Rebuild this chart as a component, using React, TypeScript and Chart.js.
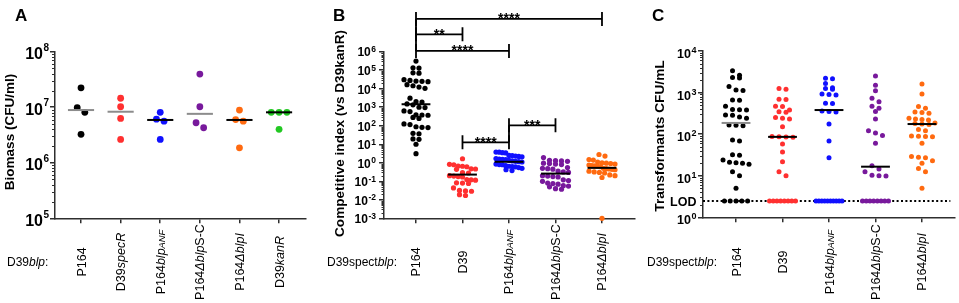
import React, { useEffect, useRef } from 'react';
import { Chart, registerables } from 'chart.js';

Chart.register(...registerables);

const FONT = '"Liberation Sans", Arial, Helvetica, sans-serif';
const H = 303;
const AXIS = '#2e2e2e';

// ---------------- Panel A : biomass ----------------
const categoriesA = ['P164', 'D39<i>specR</i>', 'P164<i>blp</i><s>ANF</s>', 'P164<i>Δblp</i>S-C', 'P164<i>ΔblpI</i>', 'D39<i>kanR</i>'];
const biomassP164 = [2.24e7, 9.8e6, 8.1e6, 3.25e6];
const biomassD39specR = [1.45e7, 1.02e7, 6.3e6, 2.63e6];
const biomassBlpANF = [8.1e6, 6.1e6, 5.6e6, 2.63e6];
const biomassBlpSC = [3.96e7, 1.02e7, 5.25e6, 4.27e6];
const biomassBlpI = [8.9e6, 6.0e6, 5.6e6, 1.86e6];
const biomassD39kanR = [8.1e6, 8.1e6, 8.1e6, 4.0e6];
const biomassMedians = [8.9e6, 8.3e6, 5.9e6, 7.6e6, 5.9e6, 8.1e6];
const yExponentsA = [5, 6, 7, 8];

// ---------------- Panel B : competitive index ----------------
const categoriesB = ['P164', 'D39', 'P164<i>blp</i><s>ANF</s>', 'P164<i>Δblp</i>S-C', 'P164<i>ΔblpI</i>'];
const ciP164 = [3.1e5, 1.35e5, 1.3e5, 7.2e4, 6.9e4, 3.1e4, 2.8e4, 2.6e4, 2.5e4, 2.4e4, 1.65e4, 1.45e4, 1.23e4, 1.05e4, 3.1e3, 2.0e3, 1.9e3, 1.5e3, 1.35e3, 1.0e3, 9.6e2, 6.3e2, 5.8e2, 3.9e2, 3.8e2, 3.7e2, 2.8e2, 2.5e2, 1.25e2, 1.15e2, 88, 82, 80, 39, 37, 19.5, 18.5, 10, 3.1];
const ciD39 = [1.65, 0.82, 0.78, 0.67, 0.65, 0.61, 0.47, 0.46, 0.44, 0.29, 0.28, 0.2, 0.19, 0.18, 0.17, 0.125, 0.12, 0.115, 0.083, 0.08, 0.076, 0.044, 0.032, 0.03, 0.029, 0.019, 0.017];
const ciBlpANF = [3.8, 3.75, 3.5, 3.4, 2.5, 2.45, 2.3, 2.2, 2.1, 1.7, 1.6, 1.55, 1.5, 1.35, 1.25, 1.2, 1.15, 1.1, 0.85, 0.8, 0.78, 0.7, 0.65, 0.62, 0.6, 0.55, 0.5, 0.42, 0.38];
const ciBlpSC = [1.9, 1.35, 1.3, 1.25, 1.2, 0.95, 0.9, 0.85, 0.8, 0.55, 0.5, 0.48, 0.45, 0.35, 0.32, 0.3, 0.2, 0.19, 0.18, 0.17, 0.12, 0.11, 0.1, 0.08, 0.075, 0.07, 0.058, 0.055, 0.05, 0.04, 0.037];
const ciBlpI = [2.8, 2.3, 1.5, 1.4, 1.1, 1.0, 0.95, 0.9, 0.85, 0.75, 0.7, 0.68, 0.65, 0.62, 0.5, 0.48, 0.46, 0.44, 0.42, 0.35, 0.32, 0.3, 0.28, 0.22, 0.2, 0.16, 0.001];
const ciMedians = [1.45e3, 0.23, 1.13, 0.26, 0.53];
const yExponentsB = [-3, -2, -1, 0, 1, 2, 3, 4, 5, 6];
const bracketFrom = [0, 0, 0, 2, 1];
const bracketTo = [4, 1, 2, 3, 2];
const bracketValue = [5.9e7, 8.7e6, 1.1e6, 105, 12.7];
const bracketLabel = ['****', '**', '****', '***', '****'];

// ---------------- Panel C : transformants ----------------
const LOD = 2.45;
const categoriesC = categoriesB;
const tfP164 = [3.35e3, 2.6e3, 2.3e3, 2.25e3, 1.4e3, 1.15e3, 1.12e3, 660, 650, 470, 390, 385, 380, 290, 285, 260, 240, 167, 163, 160, 72, 68, 32, 31, 24, 21, 20.5, 20, 19, 12.5, 10, 5.0, LOD, LOD, LOD, LOD, LOD];
const tfD39 = [1.26e3, 1.2e3, 690, 680, 470, 465, 380, 345, 335, 250, 240, 230, 150, 88, 86, 85, 84, 58, 37, 21.8, 12.5, 10, LOD, LOD, LOD, LOD, LOD, LOD, LOD, LOD];
const tfBlpANF = [2.2e3, 2.15e3, 1.65e3, 1.3e3, 1.25e3, 1.2e3, 930, 900, 880, 550, 545, 360, 350, 340, 175, 68, 27, LOD, LOD, LOD, LOD, LOD, LOD, LOD, LOD, LOD, LOD];
const tfBlpSC = [2.5e3, 1.5e3, 1.1e3, 730, 600, 470, 420, 350, 230, 120, 107, 93, 60, 17.4, 14.5, 12.5, 10.2, 10, 9.9, LOD, LOD, LOD, LOD, LOD, LOD, LOD, LOD];
const tfBlpI = [1.6e3, 920, 460, 420, 340, 330, 320, 240, 230, 225, 220, 185, 180, 175, 170, 130, 120, 90, 89, 88, 87, 60, 29, 28, 27, 23, 20, 15, 12.5, 5.0];
const tfMedians = [186, 86, 380, 16.5, 175];
const yExponentsC = [0, 1, 2, 3, 4];

// ---------------- colours ----------------
const BLACK = '#000000';
const RED = '#ff3030';
const BLUE = '#1010ff';
const PURPLE = '#78199c';
const ORANGE = '#ff6a10';
const GREEN = '#22c822';
const GRAY = '#8c8c8c';

interface PanelCfg {
  key: string;
  offsetX: number;
  width: number;
  letter: string;
  letterX: number;
  yTitle: string;
  yTitleX: number;
  yTitleY: number;
  yTitleSize: number;
  rowLabel: string;
  categories: string[];
  series: number[][];
  colors: string[];
  medians: number[];
  medianColors: string[];
  medianHalf: number;
  xMin: number;
  xMax: number;
  yExps: number[];
  area: { left: number; right: number; top: number; bottom: number };
  pointRadius: number;
  spacing: number;
  tieSpacing: number;
  maxHalf: number;
  rowH: number;
  tenSize: number;
  expSize: number;
  expRaise: number;
  labelGap: number;
  labelShift: number;
  minorLen: number;
  lod?: number;
  brackets?: boolean;
}

const panelA: PanelCfg = {
  key: 'A', offsetX: 0, width: 320, letter: 'A', letterX: 15,
  yTitle: 'Biomass (CFU/ml)', yTitleX: 14, yTitleY: 132, yTitleSize: 13.5,
  rowLabel: 'D39<i>blp</i>:',
  categories: categoriesA,
  series: [biomassP164, biomassD39specR, biomassBlpANF, biomassBlpSC, biomassBlpI, biomassD39kanR],
  colors: [BLACK, RED, BLUE, PURPLE, ORANGE, GREEN],
  medians: biomassMedians,
  medianColors: [GRAY, GRAY, BLACK, GRAY, BLACK, BLACK],
  medianHalf: 0.33,
  xMin: -0.657, xMax: 5.68,
  yExps: yExponentsA,
  area: { left: 55, right: 306, top: 51.7, bottom: 218.3 },
  pointRadius: 3.4, spacing: 7.6, tieSpacing: 7.8, maxHalf: 14, rowH: 6,
  tenSize: 16, expSize: 10, expRaise: 8.5, labelGap: 6, labelShift: 2, minorLen: 3,
};

const panelB: PanelCfg = {
  key: 'B', offsetX: 320, width: 320, letter: 'B', letterX: 13,
  yTitle: 'Competitive index (vs D39kanR)', yTitleX: 24, yTitleY: 133.5, yTitleSize: 13.6,
  rowLabel: 'D39spect<i>blp</i>:',
  categories: categoriesB,
  series: [ciP164, ciD39, ciBlpANF, ciBlpSC, ciBlpI],
  colors: [BLACK, RED, BLUE, PURPLE, ORANGE],
  medians: ciMedians,
  medianColors: [BLACK, BLACK, BLACK, BLACK, BLACK],
  medianHalf: 0.31,
  xMin: -0.688, xMax: 4.71,
  yExps: yExponentsB,
  area: { left: 64, right: 315, top: 51.7, bottom: 218.3 },
  pointRadius: 2.6, spacing: 6, tieSpacing: 6, maxHalf: 13, rowH: 5,
  tenSize: 12, expSize: 8.5, expRaise: 4.5, labelGap: 8, labelShift: 0.5, minorLen: 2.5,
  brackets: true,
};

const panelC: PanelCfg = {
  key: 'C', offsetX: 640, width: 319, letter: 'C', letterX: 12,
  yTitle: 'Transformants CFU/mL', yTitleX: 23.5, yTitleY: 136, yTitleSize: 13.7,
  rowLabel: 'D39spect<i>blp</i>:',
  categories: categoriesC,
  series: [tfP164, tfD39, tfBlpANF, tfBlpSC, tfBlpI],
  colors: [BLACK, RED, BLUE, PURPLE, ORANGE],
  medians: tfMedians,
  medianColors: [GRAY, BLACK, BLACK, BLACK, BLACK],
  medianHalf: 0.31,
  xMin: -0.71, xMax: 4.71,
  yExps: yExponentsC,
  area: { left: 63, right: 315, top: 51, bottom: 217.3 },
  pointRadius: 2.5, spacing: 7, tieSpacing: 5.8, maxHalf: 13, rowH: 5,
  tenSize: 12.5, expSize: 9, expRaise: 5, labelGap: 6.5, labelShift: 2.5, minorLen: 3,
  lod: LOD,
};

// ---------- helpers ----------
type Seg = { t: string; style: 'n' | 'i' | 's' };
function parseRich(s: string): Seg[] {
  const out: Seg[] = [];
  const re = /<(i|s)>(.*?)<\/\1>|([^<]+)/g;
  let m: RegExpExecArray | null;
  while ((m = re.exec(s))) {
    if (m[3]) out.push({ t: m[3], style: 'n' });
    else out.push({ t: m[2], style: m[1] as 'i' | 's' });
  }
  return out;
}
function segFont(style: string, size: number) {
  if (style === 'n') return `${size}px ${FONT}`;
  if (style === 'i') return `italic ${size}px ${FONT}`;
  return `italic ${size * 0.75}px ${FONT}`;
}
function drawRich(ctx: CanvasRenderingContext2D, s: string, size: number, centered: boolean) {
  const segs = parseRich(s);
  let total = 0;
  const widths = segs.map((g) => {
    ctx.font = segFont(g.style, size);
    const w = ctx.measureText(g.t).width;
    total += w;
    return w;
  });
  let x = centered ? -total / 2 : 0;
  ctx.textAlign = 'left';
  ctx.textBaseline = 'alphabetic';
  segs.forEach((g, i) => {
    ctx.font = segFont(g.style, size);
    ctx.fillText(g.t, x, size * 0.36);
    x += widths[i];
  });
}

// Prism-like scatter layout: points grouped in rows, each row centred on the category
function swarmOffsets(ys: number[], vals: number[], S: number, tieS: number, maxHalf: number, rowH: number): number[] {
  const n = ys.length;
  const order = ys.map((_, i) => i).sort((a, b) => ys[a] - ys[b]);
  const off = new Array(n).fill(0);
  let k = 0;
  while (k < n) {
    let j = k;
    while (j + 1 < n && ys[order[j + 1]] - ys[order[k]] < rowH) j++;
    const m = j - k + 1;
    if (m > 1) {
      const allTie = vals[order[k]] === vals[order[j]];
      const base = allTie ? tieS : S;
      const s = Math.min(base, (2 * maxHalf) / (m - 1));
      for (let t = 0; t < m; t++) off[order[k + t]] = (t - (m - 1) / 2) * s;
    }
    k = j + 1;
  }
  return off;
}

function drawPow(ctx: CanvasRenderingContext2D, exp: string, right: number, py: number, c: PanelCfg) {
  ctx.font = `bold ${c.tenSize}px ${FONT}`;
  const w10 = ctx.measureText('10').width;
  ctx.font = `bold ${c.expSize}px ${FONT}`;
  const wE = ctx.measureText(exp).width;
  const base = py + c.labelShift + (c.tenSize * 0.716) / 2;
  ctx.textAlign = 'left';
  ctx.textBaseline = 'alphabetic';
  ctx.font = `bold ${c.tenSize}px ${FONT}`;
  ctx.fillText('10', right - wE - w10 - 0.5, base);
  ctx.font = `bold ${c.expSize}px ${FONT}`;
  ctx.fillText(exp, right - wE, base - c.expRaise);
}

function makePlugin(c: PanelCfg) {
  return {
    id: 'overlay' + c.key,
    afterDatasetUpdate(chart: any, args: any) {
      const ds: any = chart.data.datasets[args.index];
      if (!ds._swarm) return;
      const els = args.meta.data as any[];
      const ys = els.map((e) => e.y);
      const vals = ds.data.map((d: any) => d.y);
      const off = swarmOffsets(ys, vals, c.spacing, c.tieSpacing, c.maxHalf, c.rowH);
      els.forEach((e, i) => {
        e.x = e.x + off[i];
      });
    },
    afterDraw(chart: any) {
      const ctx: CanvasRenderingContext2D = chart.ctx;
      const xs = chart.scales.x;
      const ys = chart.scales.y;
      const ca = chart.chartArea;
      ctx.save();
      ctx.fillStyle = '#000';
      // panel letter
      ctx.font = `bold 17px ${FONT}`;
      ctx.textAlign = 'left';
      ctx.textBaseline = 'alphabetic';
      ctx.fillText(c.letter, c.letterX, 20.5);
      // y title
      ctx.save();
      ctx.translate(c.yTitleX, c.yTitleY);
      ctx.rotate(-Math.PI / 2);
      ctx.font = `bold ${c.yTitleSize}px ${FONT}`;
      ctx.textAlign = 'center';
      ctx.textBaseline = 'alphabetic';
      ctx.fillText(c.yTitle, 0, 0);
      ctx.restore();
      // y tick labels
      c.yExps.forEach((e) => {
        const py = ys.getPixelForValue(Math.pow(10, e));
        drawPow(ctx, e < 0 ? '-' + String(-e) : String(e), ca.left - c.labelGap, py, c);
      });
      if (c.lod !== undefined) {
        const py = ys.getPixelForValue(c.lod);
        ctx.font = `bold ${c.tenSize}px ${FONT}`;
        ctx.textAlign = 'right';
        ctx.fillText('LOD', ca.left - c.labelGap, py + c.tenSize * 0.358);
      }
      // minor ticks
      ctx.strokeStyle = AXIS;
      ctx.lineWidth = 1;
      ctx.beginPath();
      const e0 = c.yExps[0];
      const e1 = c.yExps[c.yExps.length - 1];
      for (let e = e0; e < e1; e++) {
        for (let k = 2; k <= 9; k++) {
          const py = Math.round(ys.getPixelForValue(k * Math.pow(10, e))) + 0.5;
          ctx.moveTo(ca.left - c.minorLen, py);
          ctx.lineTo(ca.left, py);
        }
      }
      ctx.stroke();
      // row label
      ctx.fillStyle = '#000';
      ctx.save();
      ctx.translate(7, 262);
      drawRich(ctx, c.rowLabel, 12, false);
      ctx.restore();
      // x category labels
      c.categories.forEach((lab, i) => {
        const px = xs.getPixelForValue(i);
        ctx.save();
        ctx.translate(px, 262);
        ctx.rotate(-Math.PI / 2);
        drawRich(ctx, lab, 12.5, true);
        ctx.restore();
      });
      // significance brackets
      if (c.brackets) {
        ctx.strokeStyle = '#000';
        ctx.lineWidth = 1.8;
        const cap = 7;
        const ends: { x: number; y: number }[] = [];
        bracketValue.forEach((v, i) => {
          const y = ys.getPixelForValue(v);
          const x1 = xs.getPixelForValue(bracketFrom[i]);
          const x2 = xs.getPixelForValue(bracketTo[i]);
          ctx.beginPath();
          ctx.moveTo(x1, y);
          ctx.lineTo(x2, y);
          ctx.moveTo(x1, y - cap);
          ctx.lineTo(x1, y + cap);
          ctx.moveTo(x2, y - cap);
          ctx.lineTo(x2, y + cap);
          ctx.stroke();
          ends.push({ x: x1, y }, { x: x2, y });
          ctx.font = `bold 14px ${FONT}`;
          ctx.textAlign = 'center';
          ctx.textBaseline = 'alphabetic';
          ctx.fillText(bracketLabel[i], (x1 + x2) / 2, y + 4.5);
        });
        ctx.beginPath();
        for (let i = 0; i < ends.length; i++) {
          for (let j = i + 1; j < ends.length; j++) {
            if (Math.abs(ends[i].x - ends[j].x) < 0.5 && Math.abs(ends[i].y - ends[j].y) < 25) {
              ctx.moveTo(ends[i].x, ends[i].y);
              ctx.lineTo(ends[j].x, ends[j].y);
            }
          }
        }
        ctx.stroke();
      }
      ctx.restore();
    },
  };
}

function buildConfig(c: PanelCfg): any {
  const datasets: any[] = [];
  c.series.forEach((vals, i) => {
    datasets.push({
      type: 'scatter',
      data: vals.map((v) => ({ x: i, y: v })),
      backgroundColor: c.colors[i],
      borderColor: c.colors[i],
      borderWidth: 0,
      pointRadius: c.pointRadius,
      pointHoverRadius: c.pointRadius,
      clip: false,
      order: 1,
      _swarm: true,
    });
  });
  c.medians.forEach((m, i) => {
    datasets.push({
      type: 'scatter',
      showLine: true,
      data: [
        { x: i - c.medianHalf, y: m },
        { x: i + c.medianHalf, y: m },
      ],
      borderColor: c.medianColors[i],
      borderWidth: 2,
      pointRadius: 0,
      clip: false,
      order: 0,
    });
  });
  if (c.lod !== undefined) {
    datasets.push({
      type: 'scatter',
      showLine: true,
      data: [
        { x: c.xMin, y: c.lod },
        { x: c.xMax - 0.1, y: c.lod },
      ],
      borderColor: '#000',
      borderWidth: 2,
      borderDash: [2, 2.4],
      pointRadius: 0,
      clip: false,
      order: 2,
    });
  }
  const e0 = c.yExps[0];
  const e1 = c.yExps[c.yExps.length - 1];
  return {
    type: 'scatter',
    data: { datasets },
    options: {
      responsive: false,
      animation: false,
      devicePixelRatio: 1,
      events: [],
      layout: { padding: { left: 0, top: c.area.top, right: c.width - c.area.right, bottom: 0 } },
      plugins: { legend: { display: false }, tooltip: { enabled: false }, title: { display: false } },
      scales: {
        x: {
          type: 'linear',
          position: 'bottom',
          min: c.xMin,
          max: c.xMax,
          afterBuildTicks: (s: any) => {
            s.ticks = c.categories.map((_, i) => ({ value: i }));
          },
          afterFit: (s: any) => {
            s.height = H - c.area.bottom;
          },
          ticks: { display: false },
          grid: { display: true, drawOnChartArea: false, drawTicks: true, tickLength: 5, color: AXIS, lineWidth: 1.5 },
          border: { display: true, color: AXIS, width: 1.5 },
        },
        y: {
          type: 'logarithmic',
          position: 'left',
          min: Math.pow(10, e0),
          max: Math.pow(10, e1),
          afterBuildTicks: (s: any) => {
            s.ticks = c.yExps.map((e) => ({ value: Math.pow(10, e), major: true }));
          },
          afterFit: (s: any) => {
            s.width = c.area.left;
          },
          ticks: { display: false },
          grid: { display: true, drawOnChartArea: false, drawTicks: true, tickLength: 5, color: AXIS, lineWidth: 1.5 },
          border: { display: true, color: AXIS, width: 1.5 },
        },
      },
    },
    plugins: [makePlugin(c)],
  };
}

function Panel({ cfg }: { cfg: PanelCfg }) {
  const ref = useRef<HTMLCanvasElement>(null);
  useEffect(() => {
    const chart = new Chart(ref.current as HTMLCanvasElement, buildConfig(cfg));
    return () => chart.destroy();
  }, [cfg]);
  return (
    <canvas
      ref={ref}
      width={cfg.width}
      height={H}
      style={{ position: 'absolute', left: cfg.offsetX, top: 0, width: cfg.width, height: H }}
    />
  );
}

export default function App() {
  return (
    <div style={{ position: 'absolute', left: 0, top: 0, width: 959, height: H, background: '#fff', overflow: 'hidden' }}>
      <Panel cfg={panelA} />
      <Panel cfg={panelB} />
      <Panel cfg={panelC} />
    </div>
  );
}
